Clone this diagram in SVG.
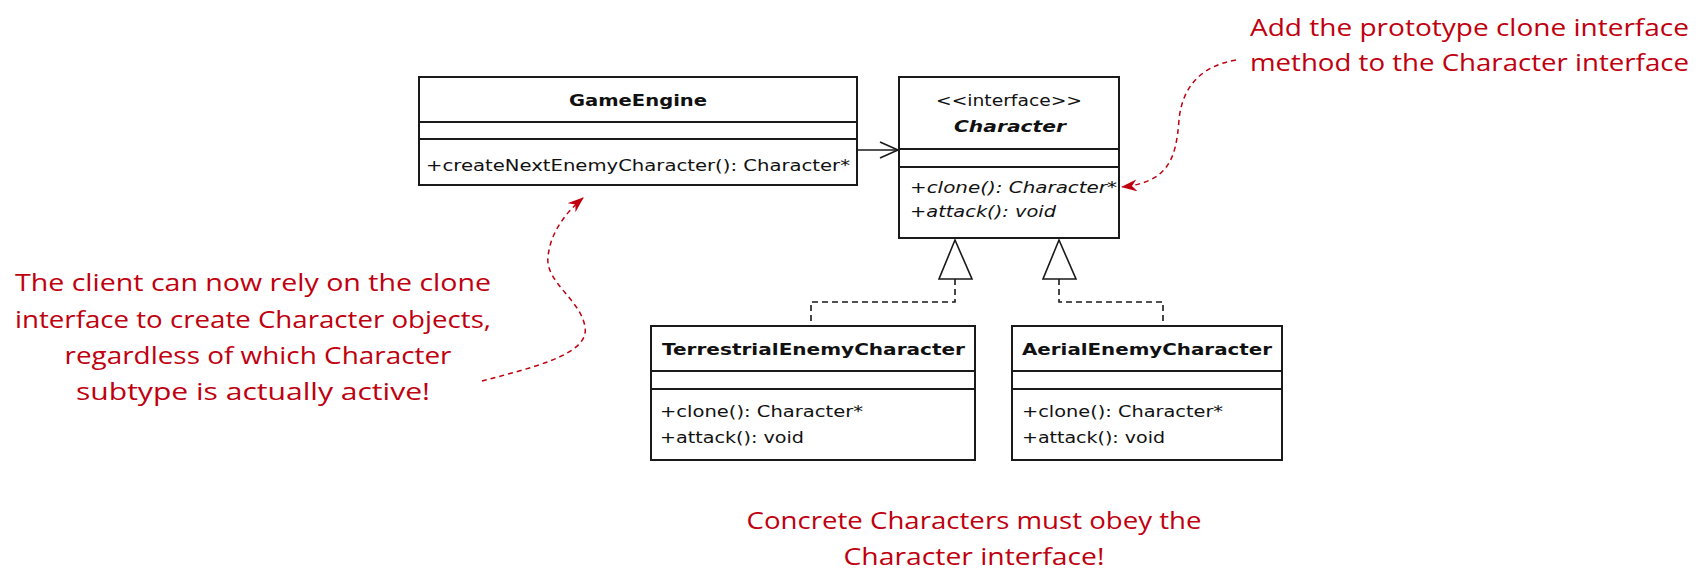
<svg xmlns="http://www.w3.org/2000/svg" width="1705" height="576" viewBox="0 0 1705 576">
  <style>
    .box { fill: #ffffff; stroke: #1a1a1a; stroke-width: 2; }
    .div { stroke: #1a1a1a; stroke-width: 2; }
    .uml { font-family: "DejaVu Sans", "Liberation Sans", sans-serif; font-size: 16px; fill: #111111; }
    .bold { font-weight: bold; }
    .ital { font-style: italic; }
    .note { font-family: "Open Sans", "DejaVu Sans", sans-serif; font-size: 24px; fill: #c0000f; }
    .link { fill: none; stroke: #1a1a1a; stroke-width: 1.6; }
    .dash { fill: none; stroke: #1a1a1a; stroke-width: 1.6; stroke-dasharray: 6 4; }
    .redline { fill: none; stroke: #c0000f; stroke-width: 1.5; stroke-dasharray: 5 4; }
  </style>
  <defs>
    <marker id="redhead" viewBox="0 0 16 12" refX="15" refY="6" markerWidth="16" markerHeight="12" markerUnits="userSpaceOnUse" orient="auto">
      <path d="M0,0 L16,6 L0,12 L5,6 Z" fill="#c0000f"/>
    </marker>
  </defs>

  <rect width="1705" height="576" fill="#ffffff"/>

  <!-- connectors -->
  <g id="connectors">
    <!-- GameEngine uses Character -->
    <line class="link" x1="857" y1="150" x2="898" y2="150"/>
    <polyline class="link" points="880,142 898,150 880,158"/>
    <!-- realizations -->
    <polyline class="dash" points="955,279 955,302 811,302 811,326"/>
    <polygon class="link" fill="#ffffff" points="955,240 939,279 972,279"/>
    <polyline class="dash" points="1059,279 1059,302 1163,302 1163,326"/>
    <polygon class="link" fill="#ffffff" points="1059,240 1043,279 1076,279"/>
    <!-- note pointers -->
    <path class="redline" marker-end="url(#redhead)" d="M1236,60 C1200,66 1182,88 1179,120 C1176,160 1168,182 1122,187"/>
    <path class="redline" marker-end="url(#redhead)" d="M482,381 C530,368 590,355 585,327 C581,300 545,282 548,257 C550,235 563,215 583,198"/>
  </g>

  <!-- GameEngine -->
  <g id="game-engine">
    <rect class="box" x="419" y="77" width="438" height="108"/>
    <line class="div" x1="419" y1="122" x2="857" y2="122"/>
    <line class="div" x1="419" y1="139" x2="857" y2="139"/>
    <text class="uml bold" x="638" y="106" text-anchor="middle" textLength="138" lengthAdjust="spacingAndGlyphs">GameEngine</text>
    <text class="uml" x="426" y="171" textLength="424" lengthAdjust="spacingAndGlyphs">+createNextEnemyCharacter(): Character*</text>
  </g>

  <!-- Character interface -->
  <g id="character">
    <rect class="box" x="899" y="77" width="220" height="161"/>
    <line class="div" x1="899" y1="149" x2="1119" y2="149"/>
    <line class="div" x1="899" y1="167" x2="1119" y2="167"/>
    <text class="uml" x="1009" y="106" text-anchor="middle" textLength="146" lengthAdjust="spacingAndGlyphs">&lt;&lt;interface&gt;&gt;</text>
    <text class="uml bold ital" x="1010" y="132" text-anchor="middle" textLength="112" lengthAdjust="spacingAndGlyphs">Character</text>
    <text class="uml ital" x="910" y="193" textLength="207" lengthAdjust="spacingAndGlyphs">+clone(): Character*</text>
    <text class="uml ital" x="910" y="217" textLength="146" lengthAdjust="spacingAndGlyphs">+attack(): void</text>
  </g>

  <!-- TerrestrialEnemyCharacter -->
  <g id="terrestrial-enemy-character">
    <rect class="box" x="651" y="326" width="324" height="134"/>
    <line class="div" x1="651" y1="371" x2="975" y2="371"/>
    <line class="div" x1="651" y1="389" x2="975" y2="389"/>
    <text class="uml bold" x="662" y="355" textLength="303" lengthAdjust="spacingAndGlyphs">TerrestrialEnemyCharacter</text>
    <text class="uml" x="660" y="417" textLength="203" lengthAdjust="spacingAndGlyphs">+clone(): Character*</text>
    <text class="uml" x="660" y="443" textLength="144" lengthAdjust="spacingAndGlyphs">+attack(): void</text>
  </g>

  <!-- AerialEnemyCharacter -->
  <g id="aerial-enemy-character">
    <rect class="box" x="1012" y="326" width="270" height="134"/>
    <line class="div" x1="1012" y1="371" x2="1282" y2="371"/>
    <line class="div" x1="1012" y1="389" x2="1282" y2="389"/>
    <text class="uml bold" x="1022" y="355" textLength="250" lengthAdjust="spacingAndGlyphs">AerialEnemyCharacter</text>
    <text class="uml" x="1022" y="417" textLength="201" lengthAdjust="spacingAndGlyphs">+clone(): Character*</text>
    <text class="uml" x="1022" y="443" textLength="143" lengthAdjust="spacingAndGlyphs">+attack(): void</text>
  </g>

  <!-- notes -->
  <g id="note-clone-method">
    <text class="note" x="1250" y="36" textLength="439" lengthAdjust="spacingAndGlyphs">Add the prototype clone interface</text>
    <text class="note" x="1250" y="71" textLength="439" lengthAdjust="spacingAndGlyphs">method to the Character interface</text>
  </g>
  <g id="note-client">
    <text class="note" x="253" y="291" text-anchor="middle" textLength="476" lengthAdjust="spacingAndGlyphs">The client can now rely on the clone</text>
    <text class="note" x="253" y="328" text-anchor="middle" textLength="476" lengthAdjust="spacingAndGlyphs">interface to create Character objects,</text>
    <text class="note" x="258" y="364" text-anchor="middle" textLength="387" lengthAdjust="spacingAndGlyphs">regardless of which Character</text>
    <text class="note" x="253" y="400" text-anchor="middle" textLength="354" lengthAdjust="spacingAndGlyphs">subtype is actually active!</text>
  </g>
  <g id="note-concrete">
    <text class="note" x="974" y="529" text-anchor="middle" textLength="455" lengthAdjust="spacingAndGlyphs">Concrete Characters must obey the</text>
    <text class="note" x="974" y="565" text-anchor="middle" textLength="261" lengthAdjust="spacingAndGlyphs">Character interface!</text>
  </g>
</svg>
